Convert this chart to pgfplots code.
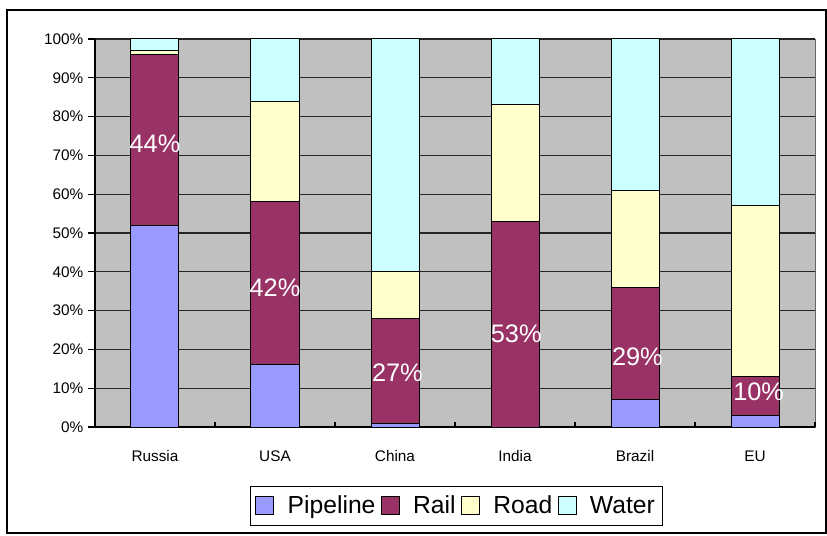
\documentclass[border=0pt]{standalone}
\usepackage{pgfplots}
\pgfplotsset{compat=1.18}
\usepackage{fontspec}
\setmainfont{Liberation Sans}

\definecolor{pipe}{HTML}{9999FF}
\definecolor{rail}{HTML}{993366}
\definecolor{road}{HTML}{FFFFCC}
\definecolor{water}{HTML}{CCFFFF}
\definecolor{plotbg}{HTML}{C0C0C0}

% shares by mode, percent
\pgfplotstableread{
x pipe rail road water
0 52 44 1  3
1 16 42 26 16
2 1  27 12 60
3 0  53 30 17
4 7  29 25 39
5 3  10 44 43
}\shares

\begin{document}
\begin{tikzpicture}
\begin{axis}[
    width=540pt, height=291pt, scale only axis,
    ybar stacked, bar width=36pt,
    xmin=-0.5, xmax=5.5, ymin=0, ymax=100,
    xtick={0,...,5},
    xticklabels={Russia,USA,China,India,Brazil,EU},
    extra x ticks={-0.5,0.5,...,5.5},
    extra x tick labels={},
    extra x tick style={tick align=inside, major tick length=3.75pt,
        major x tick style={draw=black, line width=0.8pt}},
    ytick={0,10,...,100},
    yticklabel={\pgfmathprintnumber{\tick}\%},
    /pgf/number format/assume math mode=true,
    ticklabel style={font=\fontsize{11.5}{13}\selectfont},
    xticklabel style={yshift=-9pt},
    tick align=outside,
    major tick length=5.25pt,
    major x tick style={draw=none},
    tick style={black, line width=0.8pt},
    ymajorgrids,
    major grid style={black!85, line width=0.8pt},
    axis background/.style={fill=plotbg, draw=black!60, line width=0.6pt},
    axis x line*=bottom, axis y line*=left,
    axis line style={black, line width=1.5pt, -},
    every axis plot/.append style={draw=black, line width=0.75pt},
    legend columns=4,
    legend style={at={(0.502,-0.2036)}, anchor=center,
        draw=black, line width=0.75pt,
        font=\fontsize{18.5}{21}\selectfont,
        inner xsep=4pt, inner ysep=5pt,
        /tikz/every even column/.append style={column sep=2pt},
        /tikz/every odd column/.append style={column sep=8pt}},
    legend image code/.code={
        \draw[#1, draw=black, line width=0.75pt] (0pt,-6.75pt) rectangle (13.5pt,6.75pt);},
]
\addplot[fill=pipe]  table[x=x, y=pipe]  {\shares};
\addplot[fill=rail]  table[x=x, y=rail]  {\shares};
\addplot[fill=road]  table[x=x, y=road]  {\shares};
\addplot[fill=water] table[x=x, y=water] {\shares};
\legend{Pipeline, Rail, Road, Water}

\coordinate (fbl) at (rel axis cs:-0.1222,-0.2732);
\coordinate (ftr) at (rel axis cs:1.0153,1.0747);
\coordinate (bbl) at (rel axis cs:-0.13194,-0.27835);
\coordinate (btr) at (rel axis cs:1.01667,1.10052);
\end{axis}

% rail share labels
\begin{axis}[
    width=540pt, height=291pt, scale only axis,
    xmin=-0.5, xmax=5.5, ymin=0, ymax=100,
    hide axis,
]
\addplot[draw=none, mark=none, nodes near coords,
    point meta=explicit symbolic,
    every node near coord/.append style={anchor=center, text=white,
        font=\fontsize{19}{21}\selectfont}]
    coordinates {
    (0,73) [44\%]
    (1,36) [42\%]
    (2.02,14) [27\%]
    (3.01,24) [53\%]
    (4.02,18) [29\%]
    (5.03,9) [10\%]
};
\end{axis}

\draw[black, line width=1.5pt] (fbl) rectangle (ftr);
\pgfresetboundingbox
\path[use as bounding box] (bbl) rectangle (btr);
\end{tikzpicture}
\end{document}
